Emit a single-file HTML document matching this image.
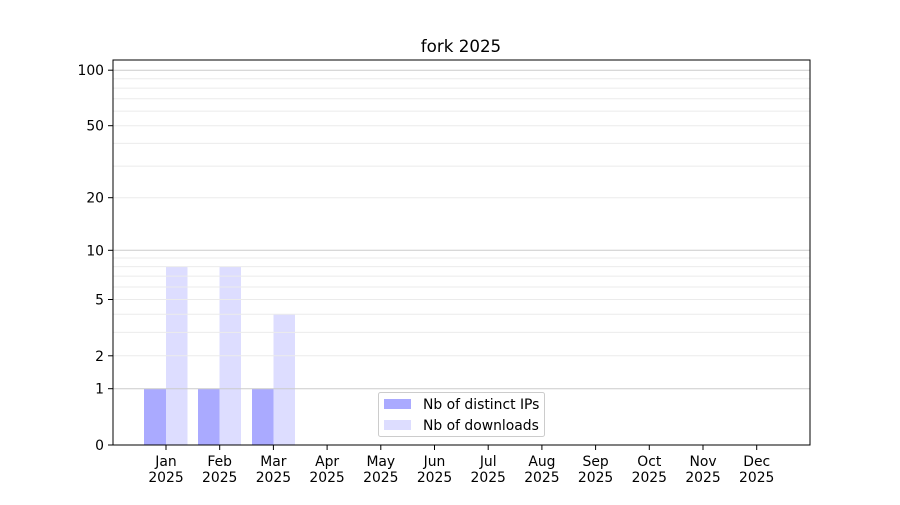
<!DOCTYPE html>
<html><head><style>
html,body{margin:0;padding:0;background:#fff;}
svg text{font-family:"DejaVu Sans","Liberation Sans",sans-serif;fill:#000;}
</style></head><body>
<svg width="900" height="500" xmlns="http://www.w3.org/2000/svg">
<rect width="900" height="500" fill="#fff"/>
<text x="461" y="52" font-size="16.7" text-anchor="middle">fork 2025</text>
<g>
<rect x="144" y="388.7" width="22" height="56.3" fill="#aaaaff"/>
<rect x="166" y="266.6" width="21.5" height="178.4" fill="#ddddff"/>
<rect x="198" y="388.7" width="21.5" height="56.3" fill="#aaaaff"/>
<rect x="219.5" y="266.6" width="21.5" height="178.4" fill="#ddddff"/>
<rect x="252" y="388.7" width="21.5" height="56.3" fill="#aaaaff"/>
<rect x="273.5" y="314.3" width="21.5" height="130.7" fill="#ddddff"/>
</g>
<g stroke="#ebebeb" stroke-width="1">
<line x1="113" x2="810" y1="355.8" y2="355.8"/>
<line x1="113" x2="810" y1="332.4" y2="332.4"/>
<line x1="113" x2="810" y1="314.3" y2="314.3"/>
<line x1="113" x2="810" y1="299.5" y2="299.5"/>
<line x1="113" x2="810" y1="287.0" y2="287.0"/>
<line x1="113" x2="810" y1="276.1" y2="276.1"/>
<line x1="113" x2="810" y1="266.6" y2="266.6"/>
<line x1="113" x2="810" y1="258.0" y2="258.0"/>
<line x1="113" x2="810" y1="197.7" y2="197.7"/>
<line x1="113" x2="810" y1="166.1" y2="166.1"/>
<line x1="113" x2="810" y1="143.4" y2="143.4"/>
<line x1="113" x2="810" y1="125.7" y2="125.7"/>
<line x1="113" x2="810" y1="111.1" y2="111.1"/>
<line x1="113" x2="810" y1="98.8" y2="98.8"/>
<line x1="113" x2="810" y1="88.1" y2="88.1"/>
<line x1="113" x2="810" y1="78.7" y2="78.7"/>
</g>
<g stroke="#cccccc" stroke-width="1">
<line x1="113" x2="810" y1="388.7" y2="388.7"/>
<line x1="113" x2="810" y1="250.3" y2="250.3"/>
<line x1="113" x2="810" y1="70.2" y2="70.2"/>
</g>
<rect x="113" y="60" width="697" height="385" fill="none" stroke="#000" stroke-width="1"/>
<g stroke="#000">
<line x1="108" x2="113" y1="445" y2="445"/>
<line x1="108" x2="113" y1="388.7" y2="388.7"/>
<line x1="108" x2="113" y1="355.8" y2="355.8"/>
<line x1="108" x2="113" y1="299.5" y2="299.5"/>
<line x1="108" x2="113" y1="250.3" y2="250.3"/>
<line x1="108" x2="113" y1="197.7" y2="197.7"/>
<line x1="108" x2="113" y1="125.7" y2="125.7"/>
<line x1="108" x2="113" y1="70.2" y2="70.2"/>
</g>
<g font-size="13.9" text-anchor="end">
<text x="104" y="450">0</text>
<text x="104" y="393.7">1</text>
<text x="104" y="360.8">2</text>
<text x="104" y="304.5">5</text>
<text x="104" y="255.3">10</text>
<text x="104" y="202.7">20</text>
<text x="104" y="130.7">50</text>
<text x="104" y="75.2">100</text>
</g>
<g stroke="#000">
<line x1="166" x2="166" y1="445" y2="450"/>
<line x1="219.7" x2="219.7" y1="445" y2="450"/>
<line x1="273.4" x2="273.4" y1="445" y2="450"/>
<line x1="327.1" x2="327.1" y1="445" y2="450"/>
<line x1="380.8" x2="380.8" y1="445" y2="450"/>
<line x1="434.5" x2="434.5" y1="445" y2="450"/>
<line x1="488.2" x2="488.2" y1="445" y2="450"/>
<line x1="541.9" x2="541.9" y1="445" y2="450"/>
<line x1="595.6" x2="595.6" y1="445" y2="450"/>
<line x1="649.3" x2="649.3" y1="445" y2="450"/>
<line x1="703" x2="703" y1="445" y2="450"/>
<line x1="756.7" x2="756.7" y1="445" y2="450"/>
</g>
<g font-size="13.9" text-anchor="middle">
<text x="166" y="466">Jan</text><text x="166" y="482">2025</text>
<text x="219.7" y="466">Feb</text><text x="219.7" y="482">2025</text>
<text x="273.4" y="466">Mar</text><text x="273.4" y="482">2025</text>
<text x="327.1" y="466">Apr</text><text x="327.1" y="482">2025</text>
<text x="380.8" y="466">May</text><text x="380.8" y="482">2025</text>
<text x="434.5" y="466">Jun</text><text x="434.5" y="482">2025</text>
<text x="488.2" y="466">Jul</text><text x="488.2" y="482">2025</text>
<text x="541.9" y="466">Aug</text><text x="541.9" y="482">2025</text>
<text x="595.6" y="466">Sep</text><text x="595.6" y="482">2025</text>
<text x="649.3" y="466">Oct</text><text x="649.3" y="482">2025</text>
<text x="703" y="466">Nov</text><text x="703" y="482">2025</text>
<text x="756.7" y="466">Dec</text><text x="756.7" y="482">2025</text>
</g>
<rect x="378.5" y="392.5" width="166" height="44" rx="2" fill="#fff" fill-opacity="0.8" stroke="#cccccc"/>
<rect x="384" y="399" width="27" height="10" fill="#aaaaff"/>
<rect x="384" y="420" width="27" height="10" fill="#ddddff"/>
<text x="423" y="409" font-size="13.9">Nb of distinct IPs</text>
<text x="423" y="430" font-size="13.9">Nb of downloads</text>
</svg>
</body></html>
